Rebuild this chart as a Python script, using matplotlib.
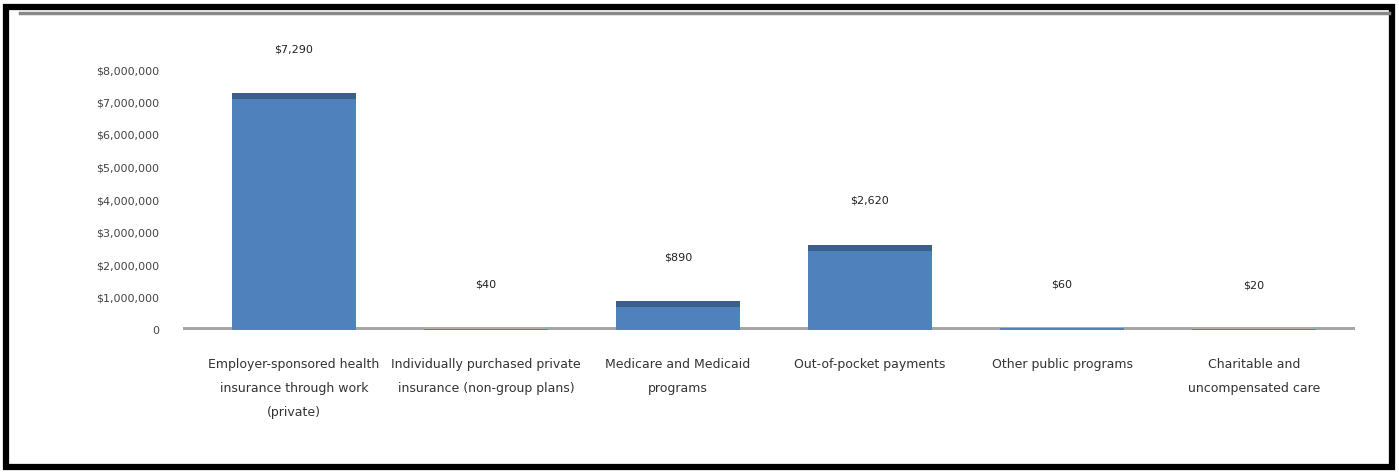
import numpy as np
import matplotlib
matplotlib.use("Agg")
import matplotlib.pyplot as plt
from matplotlib.patches import Rectangle

categories = [
    "Employer-sponsored health\ninsurance through work\n(private)",
    "Individually purchased private\ninsurance (non-group plans)",
    "Medicare and Medicaid\nprograms",
    "Out-of-pocket payments",
    "Other public programs",
    "Charitable and\nuncompensated care",
]
values = [7290, 40, 890, 2620, 60, 20]
value_labels = ["$7,290", "$40", "$890", "$2,620", "$60", "$20"]
yticks = [0, 1000, 2000, 3000, 4000, 5000, 6000, 7000, 8000]
ytick_labels = ["0", "$1,000,000", "$2,000,000", "$3,000,000", "$4,000,000",
                "$5,000,000", "$6,000,000", "$7,000,000", "$8,000,000"]

fig = plt.figure(figsize=(13.99, 4.73), dpi=100)
ax = fig.add_axes([183 / 1399, 1 - 330 / 473, (1355 - 183) / 1399, 260 / 473])

x = np.arange(len(categories))
width = 0.65
ax.bar(x, values, width=width, color="#4F81BD", zorder=2)
band = 190
ax.bar(x, [band if v > band else 0 for v in values], width=width,
       bottom=[v - band for v in values], color="#3A5F8B", zorder=3)

# floor line
ax.axhline(0, color="#A5A5A5", lw=5, zorder=1)
ax.hlines(np.zeros(len(x)), x - width / 2, x + width / 2,
          color="#B0ACA6", lw=5, zorder=1.5)

for xi, v, lab in zip(x, values, value_labels):
    ax.annotate(lab, (xi, v), xytext=(0, 28), textcoords="offset points",
                ha="center", va="bottom", fontsize=8, color="#222222")

ax.set_xlim(-0.578, 5.526)
ax.set_ylim(0, 8000)
ax.set_yticks(yticks)
ax.set_yticklabels(ytick_labels, fontsize=8, color="#444444")
ax.set_xticks(x)
ax.set_xticklabels(categories, fontsize=9, color="#333333", linespacing=2.1)
ax.tick_params(axis="y", length=0, pad=17)
ax.tick_params(axis="x", length=0, pad=20)
for s in ax.spines.values():
    s.set_visible(False)

# outer frame
fig.patches.append(Rectangle((6 / 1399, 6 / 473), 1386 / 1399, 460 / 473,
                             transform=fig.transFigure, fill=False,
                             ec="black", lw=4.5))
fig.lines.append(plt.Line2D([20 / 1399, 1 - 10 / 1399], [1 - 13 / 473, 1 - 13 / 473],
                            transform=fig.transFigure, color="#888888", lw=2.5))

fig.savefig("out.png", dpi=100)
